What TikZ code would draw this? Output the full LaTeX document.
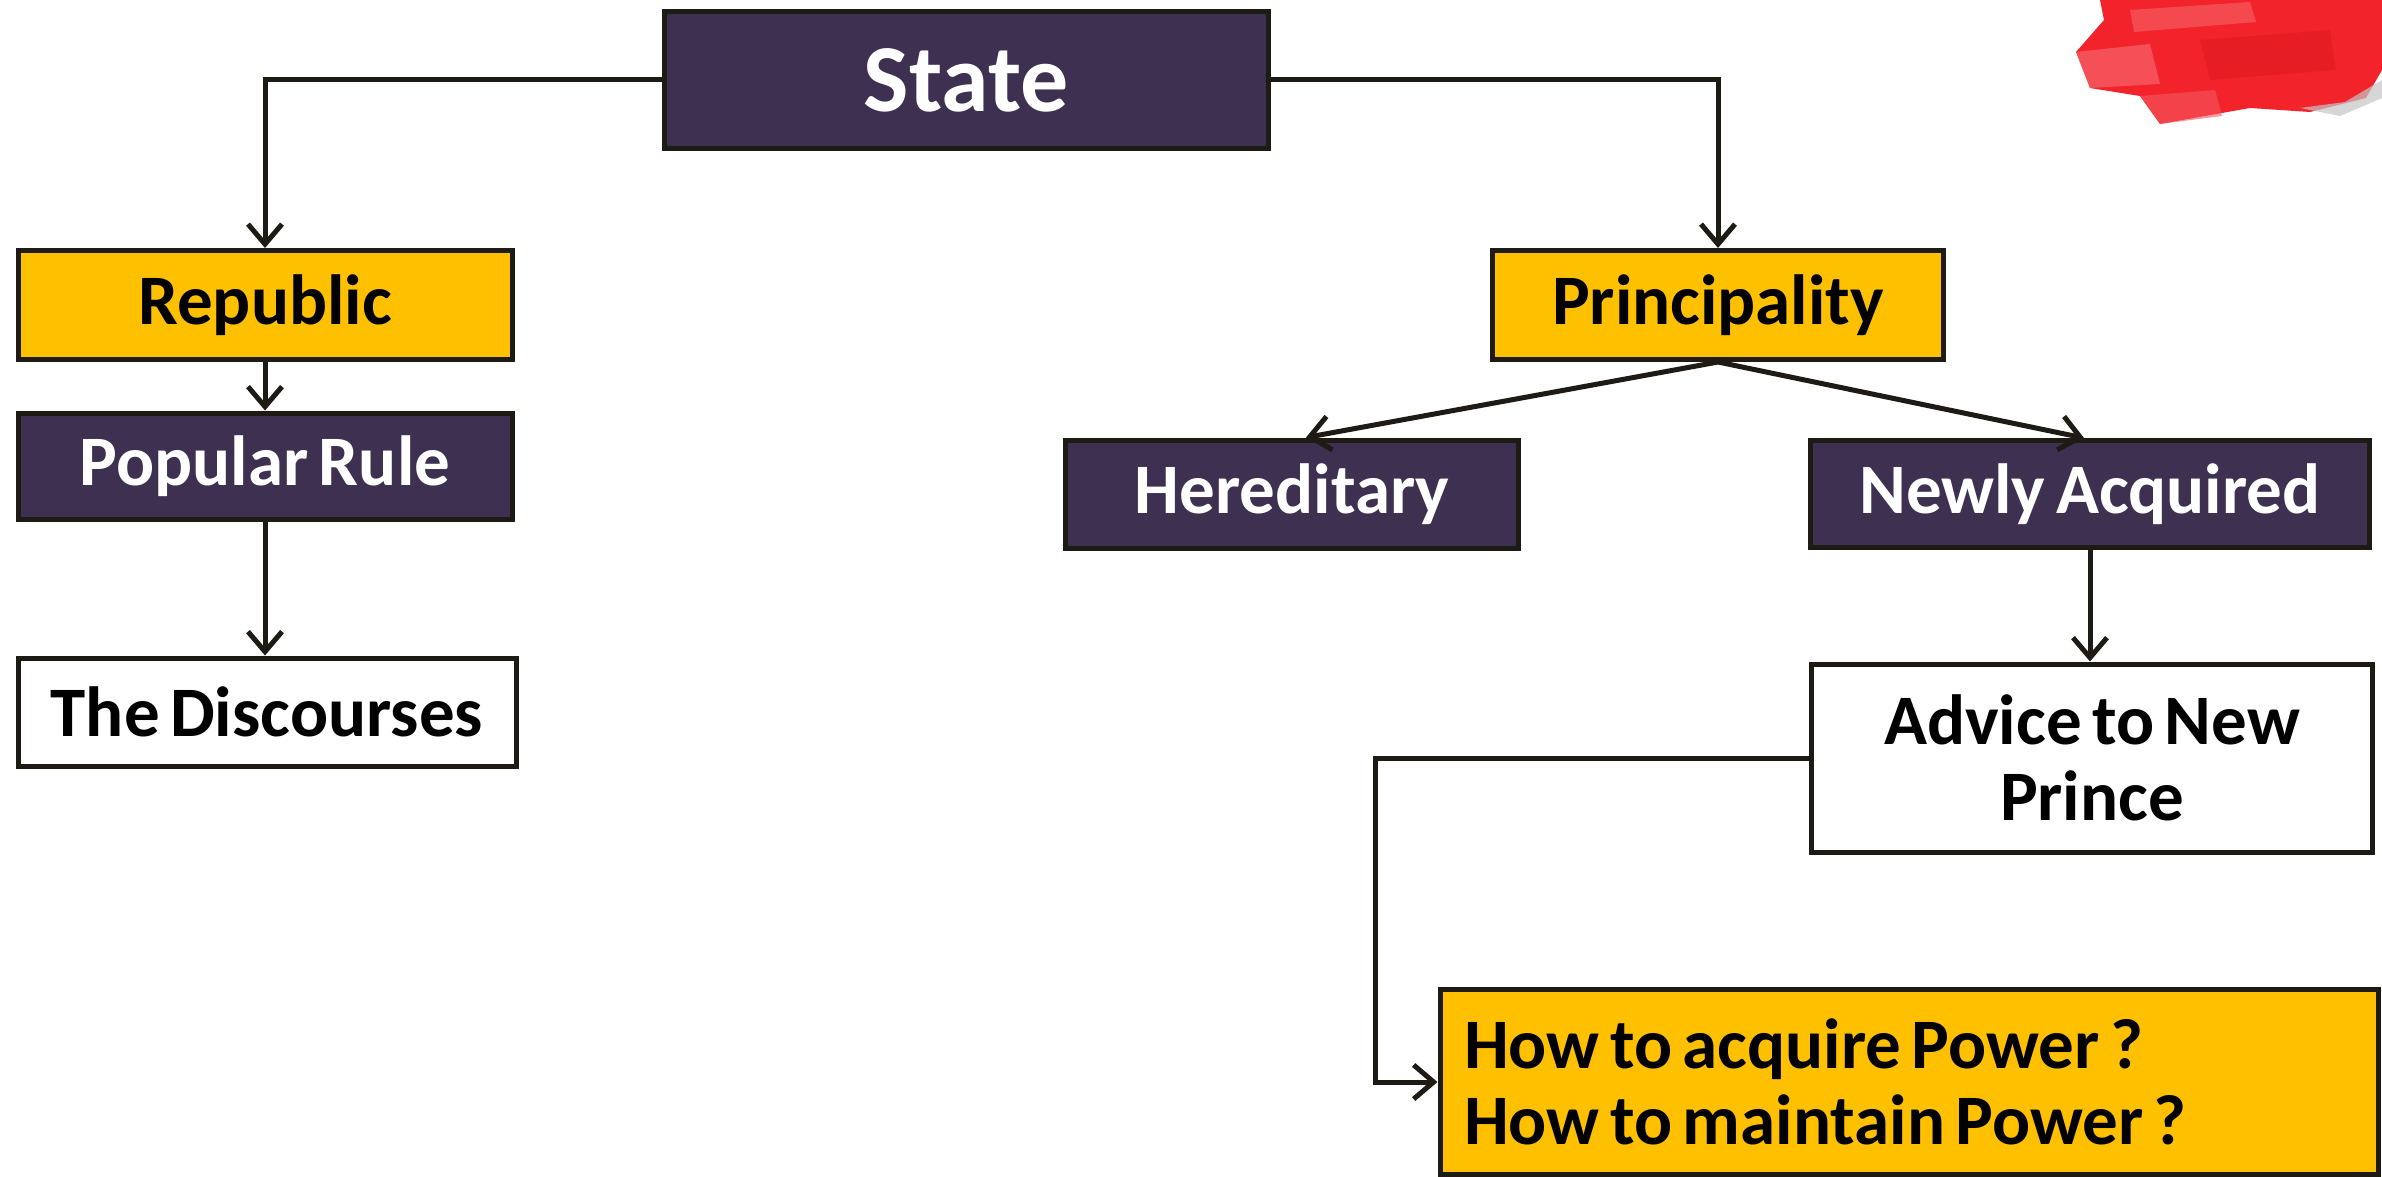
\documentclass[tikz,border=0pt]{standalone}
\usepackage{fontspec}
\setmainfont{Carlito}[WordSpace=0.65]
\usetikzlibrary{arrows.meta}
\definecolor{plum}{HTML}{3D3050}
\definecolor{amber}{HTML}{FFC000}
\definecolor{edge}{HTML}{1E1A14}
\definecolor{marker}{HTML}{F2111A}
\begin{document}
\begin{tikzpicture}[x=1pt,y=-1pt,
  box/.style={draw=edge,line width=5pt,rectangle,inner sep=0pt,
    font=\bfseries\fontsize{71}{76}\selectfont,align=center},
  darkbox/.style={box,fill=plum,text=white},
  goldbox/.style={box,fill=amber,text=black},
  plainbox/.style={box,fill=white,text=black},
  link/.style={draw=edge,line width=5pt,
    -{Straight Barb[length=20pt,width=34pt,line width=5pt]}}]
\useasboundingbox[fill=white] (0,0) rectangle (2382,1177);

% marker scribble in the corner
\fill[marker,opacity=0.92] (2100,0) -- (2382,0) -- (2382,70) -- (2366,98) -- (2310,112)
  -- (2250,108) -- (2160,124) -- (2140,96) -- (2090,88) -- (2076,52) -- (2104,20) -- cycle;
\fill[marker!65!white,opacity=0.7] (2076,52) -- (2150,44) -- (2160,84) -- (2090,88) -- cycle;
\fill[marker!70!white,opacity=0.6] (2140,96) -- (2215,90) -- (2222,116) -- (2160,124) -- cycle;
\fill[marker!60!white,opacity=0.5] (2130,10) -- (2250,2) -- (2256,22) -- (2134,32) -- cycle;
\fill[marker!80!black,opacity=0.25] (2200,40) -- (2330,30) -- (2336,70) -- (2210,80) -- cycle;
\fill[gray!45,opacity=0.7] (2300,108) -- (2345,102) -- (2382,80) -- (2382,98) -- (2340,116) -- cycle;

% boxes
\node[darkbox,minimum width=604pt,minimum height=137pt,
  font=\bfseries\fontsize{96}{100}\selectfont] (state) at (966,80) {State};
\node[goldbox,minimum width=494pt,minimum height=109pt] (republic) at (265,305) {Republic};
\node[darkbox,minimum width=494pt,minimum height=106pt] (popular) at (265,466) {Popular Rule};
\node[plainbox,minimum width=498pt,minimum height=108pt] (discourses) at (267,712) {The Discourses};
\node[goldbox,minimum width=451pt,minimum height=109pt] (principality) at (1718,305) {Principality};
\node[darkbox,minimum width=453pt,minimum height=108pt] (hereditary) at (1292,494) {Hereditary};
\node[darkbox,minimum width=559pt,minimum height=107pt] (newly) at (2090,494) {Newly Acquired};
\node[plainbox,minimum width=561pt,minimum height=188pt] (advice) at (2092,758) {Advice to New\\Prince};
\node[goldbox,minimum width=938pt,minimum height=185pt,text width=890pt,align=flush left,
  inner xsep=24pt] (howto) at (1909,1082) {How to acquire Power ?\\How to maintain Power ?};

% connectors
\draw[link] (state.west) -| (republic.north);
\draw[link] (state.east) -| (principality.north);
\draw[link] (republic.south) -- (popular.north);
\draw[link] (popular.south) -- (popular.south |- discourses.north);
\draw[link] (principality.south) -- ([xshift=14pt]hereditary.north);
\draw[link] (principality.south) -- ([xshift=-6pt]newly.north);
\draw[link] (newly.south) -- (newly.south |- advice.north);
\draw[link] (advice.west) -- ++(-434,0) |- (howto.west);
\end{tikzpicture}
\end{document}
